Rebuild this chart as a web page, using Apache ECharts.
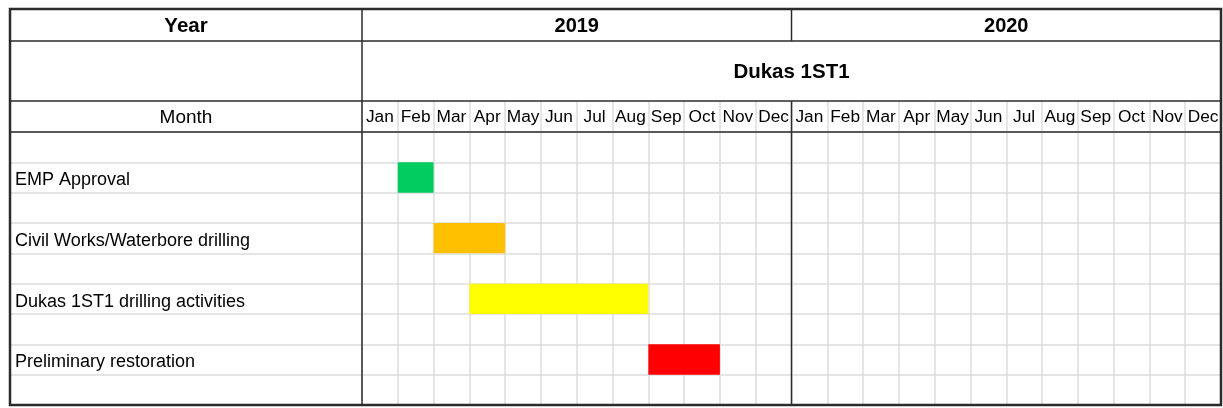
<!DOCTYPE html>
<html>
<head>
<meta charset="utf-8">
<script src="https://cdn.jsdelivr.net/npm/echarts@6/dist/echarts.min.js"></script>
<style>
  html, body { margin: 0; padding: 0; background: #fff; }
  #main { width: 1223px; height: 408px; }
</style>
</head>
<body>
<div id="main"></div>
<script>
// chart data
var years = ['2019', '2020'];
var monthNames = ['Jan', 'Feb', 'Mar', 'Apr', 'May', 'Jun', 'Jul', 'Aug', 'Sep', 'Oct', 'Nov', 'Dec'];
var tasks = ['EMP Approval', 'Civil Works/Waterbore drilling', 'Dukas 1ST1 drilling activities', 'Preliminary restoration'];
// month index, 0 = Jan 2019
var startMonth = [1, 2, 3, 8];
var endMonth = [1, 3, 7, 9];
var taskColors = ['#00cc5f', '#ffc000', '#ffff00', '#ff0000'];

// layout of the table
var L = 10, COL = 362, R = 1221, TOP = 9, Y1 = 41, Y2 = 101, Y3 = 132, BOT = 405;
var font = '"Liberation Sans", Arial, sans-serif';
var light = '#dcdcdc';
var dark = '#2b2b2b';

var months = [];
years.forEach(function () { months = months.concat(monthNames); });

// spacer rows between tasks
var rows = [''];
tasks.forEach(function (t) { rows.push(t); rows.push(''); });

var barData = tasks.map(function (t, i) {
  return [startMonth[i], endMonth[i], 2 * i + 1];
});

function renderBar(params, api) {
  var a = api.coord([api.value(0), api.value(2)]);
  var b = api.coord([api.value(1), api.value(2)]);
  var size = api.size([1, 1]);
  return {
    type: 'rect',
    shape: { x: a[0] - size[0] / 2, y: a[1] - size[1] / 2, width: b[0] - a[0] + size[0], height: size[1] },
    style: { fill: taskColors[params.dataIndex] }
  };
}

var myChart = echarts.init(document.getElementById('main'));
var W = R - COL;
var divX = COL + W * monthNames.length / months.length;

function hline(y, x1, x2, w) {
  return { type: 'line', z: 100, shape: { x1: x1, y1: y, x2: x2, y2: y }, style: { stroke: dark, lineWidth: w || 1.5 } };
}
function vline(x, y1, y2, w) {
  return { type: 'line', z: 100, shape: { x1: x, y1: y1, x2: x, y2: y2 }, style: { stroke: dark, lineWidth: w || 1.5 } };
}
function label(text, x, y, size, bold) {
  return {
    type: 'text', z: 100, x: x, y: y,
    style: { text: text, fill: '#000', font: (bold ? 'bold ' : '') + size + 'px ' + font, align: 'center', verticalAlign: 'middle' }
  };
}

var yearCenters = years.map(function (y, i) { return COL + W / years.length * (i + 0.5); });

myChart.setOption({
  animation: false,
  textStyle: { fontFamily: font },
  grid: [
    { left: COL, top: Y2, width: W, height: Y3 - Y2 },
    { left: COL, top: Y3, width: W, height: BOT - Y3 },
    { left: L, top: Y3, width: COL - L, height: BOT - Y3 }
  ],
  xAxis: [
    {
      gridIndex: 0, type: 'category', data: months, position: 'top',
      axisLine: { show: false }, axisTick: { show: false },
      axisLabel: { inside: true, margin: 16.5, verticalAlign: 'middle', fontSize: 17.3, color: '#000', interval: 0 },
      splitLine: { show: true, lineStyle: { color: light, width: 1.5 } }
    },
    {
      gridIndex: 1, type: 'category', data: months, position: 'top',
      axisLine: { show: false }, axisTick: { show: false }, axisLabel: { show: false },
      splitLine: { show: true, interval: 0, lineStyle: { color: light, width: 1.5 } }
    },
    { gridIndex: 2, type: 'value', show: false }
  ],
  yAxis: [
    { gridIndex: 0, type: 'category', data: [''], show: false },
    {
      gridIndex: 1, type: 'category', data: rows, inverse: true,
      axisLine: { show: false }, axisTick: { show: false }, axisLabel: { show: false },
      splitLine: { show: true, interval: 0, lineStyle: { color: light, width: 1.5 } }
    },
    {
      gridIndex: 2, type: 'category', data: rows, inverse: true,
      axisLine: { show: false }, axisTick: { show: false },
      axisLabel: {
        inside: true, align: 'left', margin: 5, interval: 0,
        formatter: function (v) { return v ? '{t|' + v + '}' : ''; },
        rich: { t: { fontSize: 18, color: '#000', padding: [6, 0, 0, 0] } }
      },
      splitLine: { show: true, interval: 0, lineStyle: { color: light, width: 1.5 } }
    }
  ],
  series: [{
    type: 'custom',
    xAxisIndex: 1,
    yAxisIndex: 1,
    renderItem: renderBar,
    encode: { x: [0, 1], y: 2 },
    data: barData
  }],
  graphic: [
    { type: 'rect', z: 100, shape: { x: L, y: TOP, width: R - L, height: BOT - TOP }, style: { fill: null, stroke: dark, lineWidth: 2.5 } },
    hline(Y1, L, R), hline(Y2, L, R), hline(Y3, L, R),
    vline(COL, TOP, BOT),
    vline(divX, TOP, Y1), vline(divX, Y2, BOT),
    label('Year', (L + COL) / 2, (TOP + Y1) / 2 + 1, 20.5, true),
    label('Month', (L + COL) / 2, (Y2 + Y3) / 2 + 1, 19, false),
    label(years[0], yearCenters[0], (TOP + Y1) / 2 + 1, 20, true),
    label(years[1], yearCenters[1], (TOP + Y1) / 2 + 1, 20, true),
    label('Dukas 1ST1', (COL + R) / 2, (Y1 + Y2) / 2 + 1, 20.5, true)
  ]
});
</script>
</body>
</html>
